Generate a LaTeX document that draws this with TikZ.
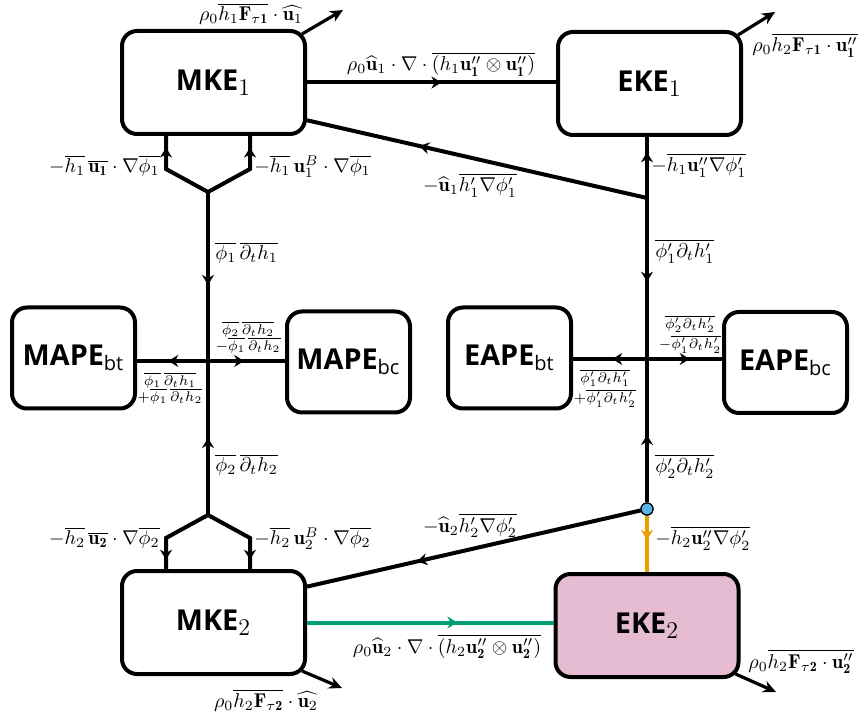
\documentclass[tikz,border=0pt]{standalone}
\usepackage{amsmath}
\usepackage{fontspec}
\setsansfont{Open Sans}
\usetikzlibrary{arrows.meta,calc,decorations.markings}
\definecolor{flowOrange}{RGB}{230,159,0}
\definecolor{flowGreen}{RGB}{0,158,115}
\definecolor{hubBlue}{RGB}{86,180,233}
\definecolor{ekeFill}{RGB}{204,121,167}
\newcommand{\boxsub}[1]{$_{\mbox{\large$#1$}}$}

\begin{document}
\begin{tikzpicture}[
  x=0.5pt,
  y=-0.5pt,
  box/.style={draw, line width=2pt, rounded corners=7.5pt, fill=white, font=\Large\sffamily, inner sep=0pt},
  bigBox/.style={box, minimum width=91.5pt, minimum height=51.5pt},
  smallBox/.style={box, minimum width=61.5pt, minimum height=50.5pt},
  link/.style={line width=2pt},
  flow/.style={link, postaction={decorate}, decoration={markings, mark=at position #1 with {\arrow{Stealth[length=5pt,width=6pt]}}}},
  force/.style={line width=1.6pt, -{Stealth[length=6.5pt,width=6pt]}},
  hub/.style={circle, draw, line width=0.6pt, fill=hubBlue, minimum size=6pt, inner sep=0pt},
  termLabel/.style={inner sep=0pt},
  smallLabel/.style={inner sep=0pt, font=\scriptsize, align=center}
]
  \useasboundingbox (0,0) rectangle (862,716);

  % energy reservoirs
  \node[bigBox] (MKE1) at (213.5,82.5) {{\bfseries MKE}\boxsub{1}};
  \node[bigBox] (EKE1) at (649.5,83.5) {{\bfseries EKE}\boxsub{1}};
  \node[smallBox] (MAPEbt) at (73.5,358) {{\bfseries MAPE}\textsubscript{bt}};
  \node[smallBox] (MAPEbc) at (348.5,362) {{\bfseries MAPE}\textsubscript{bc}};
  \node[smallBox] (EAPEbt) at (509.5,358) {{\bfseries EAPE}\textsubscript{bt}};
  \node[smallBox] (EAPEbc) at (785.5,362.5) {{\bfseries EAPE}\textsubscript{bc}};
  \node[bigBox] (MKE2) at (213.5,622.5) {{\bfseries MKE}\boxsub{2}};
  \node[bigBox, fill=ekeFill!50] (EKE2) at (647,625.5) {{\bfseries EKE}\boxsub{2}};

  % junctions
  \coordinate (yTop) at (208,192);
  \coordinate (yTopL) at (166,169);
  \coordinate (yTopR) at (250,169);
  \coordinate (cLeft) at (208,361);
  \coordinate (yBot) at (208,515);
  \coordinate (yBotL) at (166,538);
  \coordinate (yBotR) at (250,538);
  \coordinate (jTop) at (647,198);
  \coordinate (cRight) at (647,359);

  % mean column
  \draw[link] (yTopL |- MKE1.south) -- (yTopL) -- (yTop) -- (yTopR) -- (yTopR |- MKE1.south);
  \draw[link] (yBotL |- MKE2.north) -- (yBotL) -- (yBot) -- (yBotR) -- (yBotR |- MKE2.north);
  \foreach \arm in {yTopL,yTopR} {
    \draw[flow=0.65] (\arm) -- (\arm |- MKE1.south);
  }
  \foreach \arm in {yBotL,yBotR} {
    \draw[flow=0.7] (\arm) -- (\arm |- MKE2.north);
  }
  \draw[flow=0.55] (yTop) -- (cLeft);
  \draw[flow=0.5] (yBot) -- (cLeft);
  \draw[flow=0.56] (cLeft) -- (cLeft -| MAPEbt.east);
  \draw[flow=0.47] (cLeft) -- (cLeft -| MAPEbc.west);

  % eddy column
  \node[hub] (jBot) at (647,509) {};
  \draw[flow=0.75] (jTop) -- (jTop |- EKE1.south);
  \draw[flow=0.52] (jTop) -- (cRight);
  \draw[flow=0.47] (jBot) -- (cRight);
  \draw[flow=0.47] (cRight) -- (cRight -| EAPEbt.east);
  \draw[flow=0.57] (cRight) -- (cRight -| EAPEbc.west);
  \draw[flow=0.43, flowOrange] (jBot) -- (EKE2.north);

  % mean to eddy
  \draw[flow=0.54] (MKE1.east) -- (MKE1.east -| EKE1.west);
  \draw[flow=0.67] (jTop) -- (MKE1.-22);
  \draw[flow=0.67] (jBot) -- (MKE2.21);
  \draw[flow=0.61, flowGreen] (MKE2.east) -- (MKE2.east -| EKE2.west);
  \node[hub] at (jBot) {};

  % wind work
  \coordinate (fMKE1) at (343,10);
  \coordinate (fEKE1) at (775,12);
  \coordinate (fMKE2) at (342,688);
  \coordinate (fEKE2) at (776,692);
  \draw[force] ($(MKE1.north east)+(-5,5)$) -- (fMKE1);
  \draw[force] ($(EKE1.north east)+(-5,5)$) -- (fEKE1);
  \draw[force] ($(MKE2.south east)+(-5,-5)$) -- (fMKE2);
  \draw[force] ($(EKE2.south east)+(-5,-5)$) -- (fEKE2);

  % term labels
  \node[termLabel, anchor=base] (lblF1) at (251,21) {$\rho_0\overline{h_1\mathbf{F}_{\tau\mathbf{1}}}\cdot\widehat{\mathbf{u}_1}$};
  \node[termLabel, anchor=base west] (lblF1e) at (752,52) {$\rho_0\overline{h_2\mathbf{F}_{\tau\mathbf{1}}\cdot\mathbf{u}_\mathbf{1}''}$};
  \node[termLabel, anchor=base] (lblTop) at (441,71) {$\rho_0\widehat{\mathbf{u}}_1\cdot\nabla\cdot\overline{(h_1\mathbf{u_1''}\otimes\mathbf{u_1''})}$};
  \node[termLabel, anchor=base east] (lblYl1) at (160,173) {$-\overline{h_1}\,\overline{\mathbf{u_1}}\cdot\nabla\overline{\phi_1}$};
  \node[termLabel, anchor=base west] (lblYr1) at (254,173) {$-\overline{h_1}\,\mathbf{u}_1^B\cdot\nabla\overline{\phi_1}$};
  \node[termLabel, anchor=base west] (lblPhi1) at (215,260) {$\overline{\phi_1}\,\overline{\partial_t h_1}$};
  \node[termLabel, anchor=base] (lblDiag1) at (470,192) {$-\widehat{\mathbf{u}}_1\overline{h_1'\nabla\phi_1'}$};
  \node[termLabel, anchor=base west] (lblEke1) at (651,172) {$-\overline{h_1\mathbf{u}_1''\nabla\phi_1'}$};
  \node[termLabel, anchor=base west] (lblPhi1p) at (655,258) {$\overline{\phi_1'\partial_t h_1'}$};
  \node[smallLabel] (lblMapeR) at (248,337) {$\overline{\phi_2}\,\overline{\partial_t h_2}$\\$-\overline{\phi_1}\,\overline{\partial_t h_2}$};
  \node[smallLabel] (lblMapeL) at (170,388) {$\overline{\phi_1}\,\overline{\partial_t h_1}$\\$+\overline{\phi_1}\,\overline{\partial_t h_2}$};
  \node[smallLabel] (lblEapeR) at (690,334) {$\overline{\phi_2'\partial_t h_2'}$\\$-\overline{\phi_1'\partial_t h_2'}$};
  \node[smallLabel] (lblEapeL) at (605,388) {$\overline{\phi_1'\partial_t h_1'}$\\$+\overline{\phi_1'\partial_t h_2'}$};
  \node[termLabel, anchor=base west] (lblPhi2) at (215,472) {$\overline{\phi_2}\,\overline{\partial_t h_2}$};
  \node[termLabel, anchor=base west] (lblPhi2p) at (655,473) {$\overline{\phi_2'\partial_t h_2'}$};
  \node[termLabel, anchor=base east] (lblYl2) at (160,545) {$-\overline{h_2}\,\overline{\mathbf{u_2}}\cdot\nabla\overline{\phi_2}$};
  \node[termLabel, anchor=base west] (lblYr2) at (254,545) {$-\overline{h_2}\,\mathbf{u}_2^B\cdot\nabla\overline{\phi_2}$};
  \node[termLabel, anchor=base] (lblDiag2) at (470,532) {$-\widehat{\mathbf{u}}_2\overline{h_2'\nabla\phi_2'}$};
  \node[termLabel, anchor=base west] (lblEke2) at (655,545) {$-\overline{h_2\mathbf{u}_2''\nabla\phi_2'}$};
  \node[termLabel, anchor=base] (lblGreen) at (447,653) {$\rho_0\widehat{\mathbf{u}}_2\cdot\nabla\cdot\overline{(h_2\mathbf{u_2''}\otimes\mathbf{u_2''})}$};
  \node[termLabel, anchor=base] (lblF2) at (266,707) {$\rho_0\overline{h_2\mathbf{F}_{\tau\mathbf{2}}}\cdot\widehat{\mathbf{u}_2}$};
  \node[termLabel, anchor=base west] (lblF2e) at (748,668) {$\rho_0\overline{h_2\mathbf{F}_{\tau\mathbf{2}}\cdot\mathbf{u}_\mathbf{2}''}$};
\end{tikzpicture}
\end{document}
